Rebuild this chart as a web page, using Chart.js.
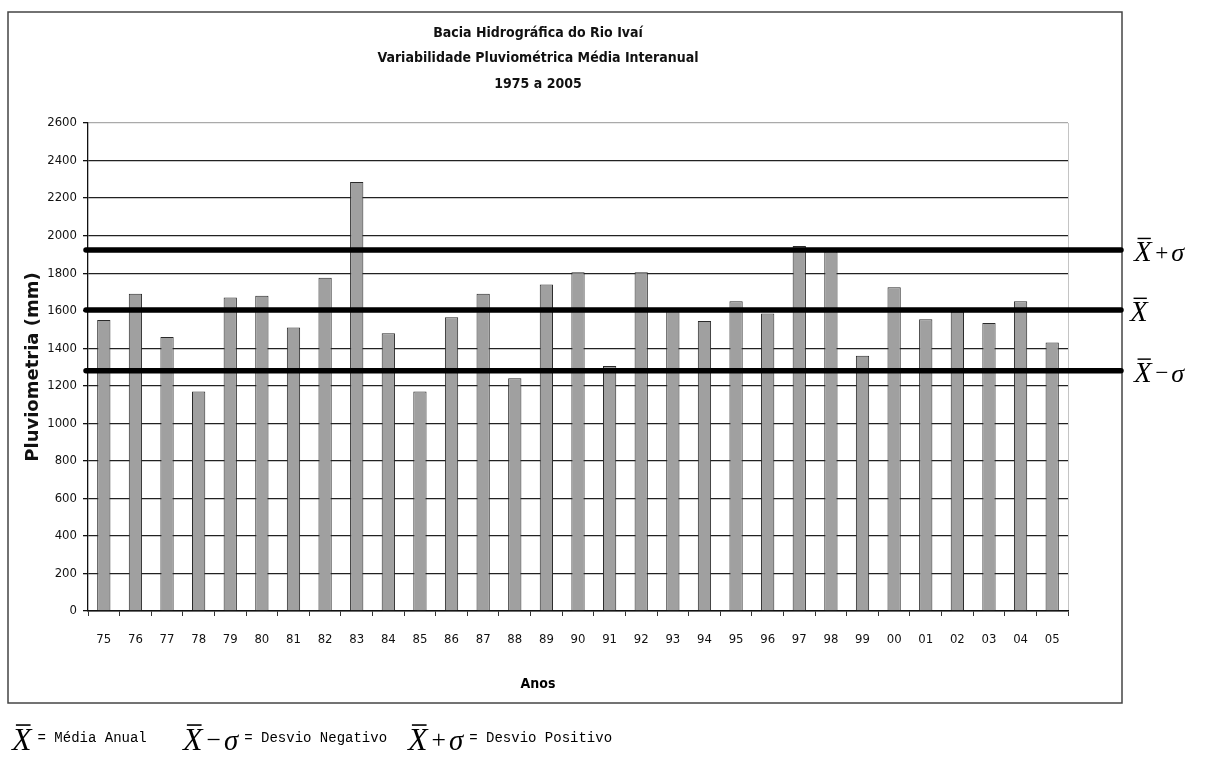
<!DOCTYPE html>
<html lang="pt">
<head>
  <meta charset="UTF-8" />
  <title>Bacia Hidrográfica do Rio Ivaí</title>
  <script src="https://cdn.jsdelivr.net/npm/chart.js"></script>
  <style>
    html, body { margin: 0; padding: 0; background: #fff; }
    #grafico { display: block; }
  </style>
</head>
<body>
  <canvas id="grafico" width="1214" height="759"></canvas>
  <script>
    // dados
    const anos = ['75','76','77','78','79','80','81','82','83','84','85','86','87','88','89','90',
                  '91','92','93','94','95','96','97','98','99','00','01','02','03','04','05'];
    const pluviometria = [1550, 1690, 1460, 1170, 1670, 1680, 1510, 1775, 2285, 1480, 1170,
                          1565, 1690, 1240, 1740, 1805, 1305, 1805, 1600, 1545, 1650, 1585,
                          1945, 1915, 1360, 1725, 1555, 1595, 1535, 1650, 1430];
    // X + σ, X, X − σ
    const linhasReferencia = [1923, 1604, 1280];
    const sinaisReferencia = ['+', '', '−'];
    const tituloLinhas = ['Bacia Hidrográfica do Rio Ivaí', 'Variabilidade Pluviométrica Média Interanual', '1975 a 2005'];
    const legendaTextos = ['= Média Anual', '= Desvio Negativo', '= Desvio Positivo'];

    const narrow = '"Liberation Sans Narrow", "Arial Narrow", "DejaVu Sans Condensed", sans-serif';
    const serif = '"Liberation Serif", "Times New Roman", serif';
    const mono = '"Liberation Mono", "Courier New", monospace';

    // X com barra por cima
    function xBarra(ctx, x, base, size) {
      ctx.font = 'italic ' + size + 'px ' + serif;
      ctx.textAlign = 'left';
      ctx.textBaseline = 'alphabetic';
      ctx.fillText('X', x, base);
      const w = ctx.measureText('X').width;
      const topo = base - size * 0.78;
      ctx.lineWidth = Math.max(1.2, size * 0.05);
      ctx.beginPath();
      ctx.moveTo(x + w * 0.2, topo);
      ctx.lineTo(x + w * 0.95, topo);
      ctx.stroke();
      return x + w;
    }

    function expressao(ctx, x, base, size, sinal) {
      let fim = xBarra(ctx, x, base, size);
      if (!sinal) return fim;
      ctx.font = size * 0.8 + 'px ' + serif;
      ctx.fillText(sinal, fim + size * 0.12, base - size * 0.05);
      fim += size * 0.12 + ctx.measureText(sinal).width;
      ctx.font = 'italic ' + size * 0.9 + 'px ' + serif;
      ctx.fillText('σ', fim + size * 0.1, base);
      return fim + size * 0.1 + ctx.measureText('σ').width;
    }

    const extras = {
      id: 'extras',
      beforeDraw(chart) {
        const { ctx, chartArea: a } = chart;
        ctx.save();
        ctx.fillStyle = '#fff';
        ctx.fillRect(0, 0, chart.width, chart.height);
        ctx.strokeStyle = '#444';
        ctx.lineWidth = 1.5;
        ctx.strokeRect(8, 12, 1114, 691);
        ctx.strokeStyle = '#c4c4c4';
        ctx.lineWidth = 1;
        ctx.beginPath();
        ctx.moveTo(a.right + 0.5, a.top);
        ctx.lineTo(a.right + 0.5, a.bottom);
        ctx.stroke();
        ctx.restore();
      },
      afterDraw(chart) {
        const { ctx, chartArea: a } = chart;
        const y = chart.scales.y;
        ctx.save();
        ctx.fillStyle = '#000';
        ctx.strokeStyle = '#000';

        // linhas grossas da média e desvios
        linhasReferencia.forEach((v, i) => {
          const py = y.getPixelForValue(v);
          ctx.lineWidth = 5.5;
          ctx.lineCap = 'round';
          ctx.beginPath();
          ctx.moveTo(a.left - 2, py);
          ctx.lineTo(1121, py);
          ctx.stroke();
          ctx.lineCap = 'butt';
          expressao(ctx, sinaisReferencia[i] ? 1134 : 1130, py + 11, 29, sinaisReferencia[i]);
        });

        // título do eixo x
        ctx.font = 'bold 14px ' + narrow;
        ctx.textAlign = 'center';
        ctx.textBaseline = 'middle';
        ctx.fillText('Anos', 538, 684);

        // legenda inferior
        const base = 750;
        const itens = [[12, ''], [183, '−'], [408, '+']];
        itens.forEach(([x, s], i) => {
          const fim = expressao(ctx, x, base, 32, s);
          ctx.font = '14px ' + mono;
          ctx.textAlign = 'left';
          ctx.textBaseline = 'alphabetic';
          ctx.fillText(legendaTextos[i], fim + 6, base - 8);
        });
        ctx.restore();
      }
    };

    new Chart(document.getElementById('grafico'), {
      type: 'bar',
      data: {
        labels: anos,
        datasets: [{
          label: 'Pluviometria (mm)',
          data: pluviometria,
          backgroundColor: '#a0a0a0',
          borderColor: '#2a2a2a',
          borderWidth: 1,
          barPercentage: 0.42,
          categoryPercentage: 1
        }]
      },
      options: {
        responsive: false,
        animation: false,
        events: [],
        layout: { padding: { left: 8, right: 146, top: 12, bottom: 56 } },
        plugins: {
          legend: { display: false },
          tooltip: { enabled: false },
          title: {
            display: true,
            text: tituloLinhas,
            color: '#111',
            font: { family: narrow, size: 14, weight: 'bold', lineHeight: 25.5 / 14 },
            padding: { top: 8.5, bottom: 26 }
          }
        },
        scales: {
          x: {
            ticks: { color: '#111', font: { family: narrow, size: 13 }, padding: 16, maxRotation: 0, autoSkip: false },
            grid: { offset: true, drawOnChartArea: false, tickLength: 5, color: '#333', tickColor: '#333' },
            border: { color: '#111', width: 1.5 },
            afterFit: s => { s.height = 92; }
          },
          y: {
            min: 0,
            max: 2600,
            ticks: { stepSize: 200, color: '#111', font: { family: narrow, size: 13 }, padding: 6, callback: v => String(v) },
            grid: {
              color: c => (c.tick && c.tick.value === 2600) ? '#aaaaaa' : '#222',
              lineWidth: 1.3,
              tickColor: '#111',
              tickLength: 5
            },
            border: { color: '#111', width: 1.3 },
            title: {
              display: true,
              text: 'Pluviometria (mm)',
              color: '#111',
              font: { family: 'DejaVu Sans', size: 18, weight: 'bold' },
              padding: { top: 15 }
            },
            afterFit: s => { s.width = 80; }
          }
        }
      },
      plugins: [extras]
    });
  </script>
</body>
</html>
